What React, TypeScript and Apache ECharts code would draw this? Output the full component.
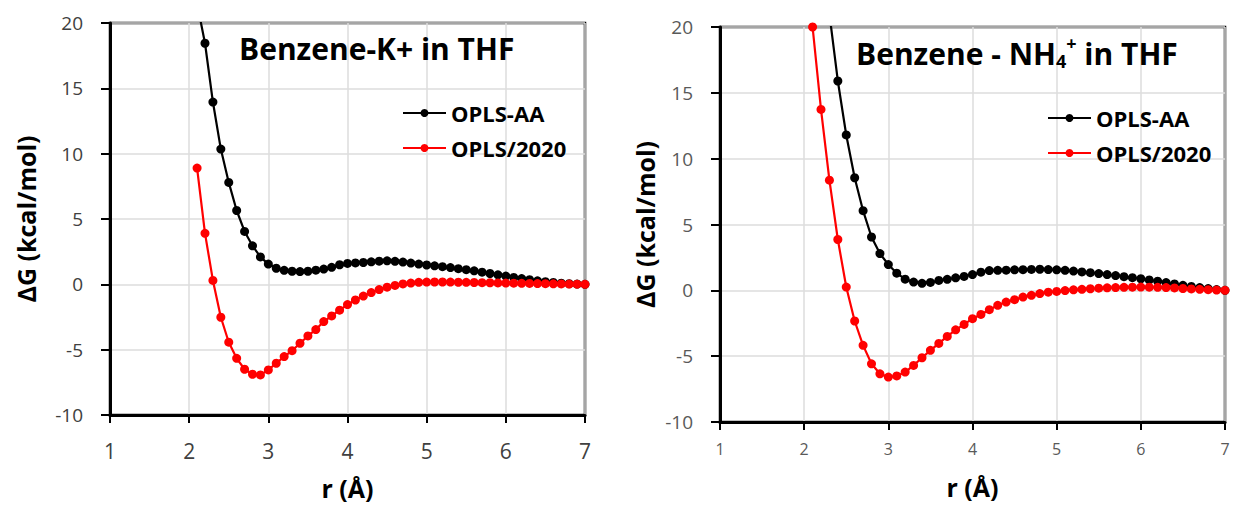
import React, { useEffect, useRef } from "react";
import * as echarts from "echarts";

// r (Å) grids
const R_FROM_2_1 = [2.1, 2.2, 2.3, 2.4, 2.5, 2.6, 2.7, 2.8, 2.9, 3.0, 3.1, 3.2, 3.3, 3.4, 3.5, 3.6, 3.7, 3.8, 3.9, 4.0, 4.1, 4.2, 4.3, 4.4, 4.5, 4.6, 4.7, 4.8, 4.9, 5.0, 5.1, 5.2, 5.3, 5.4, 5.5, 5.6, 5.7, 5.8, 5.9, 6.0, 6.1, 6.2, 6.3, 6.4, 6.5, 6.6, 6.7, 6.8, 6.9, 7.0];
const R_FROM_2_3 = [2.3, 2.4, 2.5, 2.6, 2.7, 2.8, 2.9, 3.0, 3.1, 3.2, 3.3, 3.4, 3.5, 3.6, 3.7, 3.8, 3.9, 4.0, 4.1, 4.2, 4.3, 4.4, 4.5, 4.6, 4.7, 4.8, 4.9, 5.0, 5.1, 5.2, 5.3, 5.4, 5.5, 5.6, 5.7, 5.8, 5.9, 6.0, 6.1, 6.2, 6.3, 6.4, 6.5, 6.6, 6.7, 6.8, 6.9, 7.0];

// Benzene-K+ in THF (kcal/mol)
const K_OPLSAA = [21.5, 18.45, 13.95, 10.35, 7.8, 5.65, 4.05, 2.95, 2.1, 1.55, 1.23, 1.07, 1.0, 0.98, 1.0, 1.08, 1.17, 1.3, 1.5, 1.6, 1.64, 1.67, 1.72, 1.77, 1.8, 1.76, 1.7, 1.63, 1.55, 1.48, 1.42, 1.35, 1.28, 1.2, 1.12, 1.03, 0.93, 0.83, 0.73, 0.63, 0.53, 0.44, 0.35, 0.27, 0.2, 0.14, 0.09, 0.05, 0.02, 0.0];
const K_OPLS2020 = [8.9, 3.9, 0.3, -2.52, -4.43, -5.66, -6.5, -6.88, -6.93, -6.55, -6.04, -5.53, -5.08, -4.51, -3.95, -3.46, -2.85, -2.42, -1.98, -1.55, -1.2, -0.9, -0.63, -0.4, -0.22, -0.08, 0.03, 0.1, 0.15, 0.17, 0.18, 0.18, 0.17, 0.16, 0.15, 0.14, 0.13, 0.12, 0.11, 0.1, 0.09, 0.08, 0.07, 0.06, 0.05, 0.04, 0.03, 0.02, 0.01, 0.0];

// Benzene - NH4+ in THF (kcal/mol)
const NH4_OPLSAA = [21.0, 15.9, 11.8, 8.55, 6.05, 4.05, 2.79, 1.96, 1.3, 0.85, 0.63, 0.53, 0.6, 0.75, 0.84, 0.95, 1.06, 1.2, 1.38, 1.5, 1.52, 1.53, 1.56, 1.57, 1.59, 1.6, 1.58, 1.56, 1.52, 1.46, 1.4, 1.34, 1.27, 1.2, 1.12, 1.04, 0.96, 0.88, 0.79, 0.69, 0.59, 0.48, 0.38, 0.29, 0.21, 0.13, 0.06, 0.0];
const NH4_OPLS2020 = [20.0, 13.74, 8.37, 3.86, 0.25, -2.33, -4.18, -5.58, -6.34, -6.59, -6.5, -6.21, -5.7, -5.12, -4.56, -4.03, -3.5, -3.0, -2.59, -2.15, -1.83, -1.47, -1.14, -0.89, -0.71, -0.51, -0.38, -0.25, -0.14, -0.08, -0.02, 0.04, 0.08, 0.12, 0.16, 0.19, 0.21, 0.23, 0.24, 0.25, 0.24, 0.23, 0.21, 0.18, 0.14, 0.11, 0.08, 0.05, 0.02, 0.0];

const SERIES_NAMES = ["OPLS-AA", "OPLS/2020"];
const SERIES_COLORS = ["#000000", "#ff0000"];
const X_TICKS = [1, 2, 3, 4, 5, 6, 7];
const Y_TICKS = [-10, -5, 0, 5, 10, 15, 20];
const PANEL_TITLES = ["Benzene-K+ in THF", "{a|Benzene - NH}{s|4}{p|+}{a| in THF}"];
const X_NAME = "r (Å)";
const Y_NAME = "ΔG (kcal/mol)";

const FONT = "'Open Sans', 'Noto Sans', sans-serif";

const pairs = (xs: number[], ys: number[]) => xs.map((x, i) => [x, ys[i]]);

function makeAxes(idx: number, cfg: any) {
  const xAxis = {
    type: "value",
    gridIndex: idx,
    min: X_TICKS[0],
    max: X_TICKS[X_TICKS.length - 1],
    interval: 1,
    name: X_NAME,
    nameLocation: "middle",
    nameGap: cfg.xNameGap,
    nameTextStyle: { fontFamily: FONT, fontWeight: "bold", fontSize: 25, color: "#000" },
    axisLine: { show: true, onZero: false, lineStyle: { color: "#000", width: 3 } },
    axisTick: { show: true, length: 8, lineStyle: { color: "#000", width: 2 } },
    axisLabel: { fontFamily: FONT, fontSize: cfg.xLabelSize, color: cfg.labelColor, margin: cfg.xLabelMargin },
    splitLine: { show: true, lineStyle: { color: "#dcdcdc", width: 1.5 } },
  };
  const yAxis = {
    type: "value",
    gridIndex: idx,
    min: Y_TICKS[0],
    max: Y_TICKS[Y_TICKS.length - 1],
    interval: 5,
    name: Y_NAME,
    nameLocation: "middle",
    nameRotate: 90,
    nameGap: cfg.yNameGap,
    nameTextStyle: { fontFamily: FONT, fontWeight: "bold", fontSize: 25, color: "#000" },
    axisLine: { show: true, lineStyle: { color: "#000", width: 3 } },
    axisTick: { show: true, length: 9, lineStyle: { color: "#000", width: 2 } },
    axisLabel: { fontFamily: FONT, fontSize: 19, color: cfg.labelColor, margin: cfg.yLabelMargin },
    splitLine: { show: true, lineStyle: { color: "#dcdcdc", width: 1.5 } },
  };
  return { xAxis, yAxis };
}

function lineSeries(name: string, color: string, idx: number, data: number[][]) {
  return {
    type: "line",
    name,
    xAxisIndex: idx,
    yAxisIndex: idx,
    data,
    symbol: "circle",
    symbolSize: 9,
    showSymbol: true,
    clip: true,
    lineStyle: { color, width: 2.2 },
    itemStyle: { color },
    z: name === SERIES_NAMES[1] ? 3 : 2,
  };
}

export default function App() {
  const ref = useRef<HTMLDivElement>(null);
  useEffect(() => {
    if (!ref.current) return;
    const chart = echarts.init(ref.current, null, { renderer: "svg" });
    const left = makeAxes(0, { xNameGap: 60, xLabelSize: 21, xLabelMargin: 25, yNameGap: 72, yLabelMargin: 27, labelColor: "#404040" });
    const right = makeAxes(1, { xNameGap: 52, xLabelSize: 16, xLabelMargin: 19, yNameGap: 63, yLabelMargin: 27, labelColor: "#595959" });
    const legendCommon = {
      orient: "vertical",
      itemWidth: 43,
      itemHeight: 10,
      itemGap: 13,
      selectedMode: false,
      data: SERIES_NAMES,
      textStyle: { fontFamily: FONT, fontWeight: "bold", fontSize: 22, color: "#000" },
    };
    chart.setOption({
      animation: false,
      backgroundColor: "#ffffff",
      title: [
        {
          text: PANEL_TITLES[0],
          left: 239,
          top: 33,
          padding: 0,
          textStyle: { fontFamily: FONT, fontWeight: "bold", fontSize: 30, lineHeight: 30, color: "#000" },
        },
        {
          text: PANEL_TITLES[1],
          left: 856,
          top: 38,
          padding: 0,
          textStyle: {
            rich: {
              a: { fontFamily: FONT, fontWeight: "bold", fontSize: 30, lineHeight: 30, color: "#000" },
              s: { fontFamily: FONT, fontWeight: "bold", fontSize: 18, lineHeight: 18, color: "#000", padding: [16, 0, 0, 0] },
              p: { fontFamily: FONT, fontWeight: "bold", fontSize: 18, lineHeight: 18, color: "#000", padding: [0, 0, 20, 0] },
            },
          },
        },
      ],
      legend: [
        { ...legendCommon, left: 397, top: 97 },
        { ...legendCommon, left: 1042, top: 102 },
      ],
      grid: [
        { left: 110, top: 23, width: 475, height: 392, show: true, borderColor: "#000", borderWidth: 2.5, containLabel: false },
        { left: 720, top: 27, width: 505, height: 395, show: true, borderColor: "#000", borderWidth: 2.5, containLabel: false },
      ],
      xAxis: [left.xAxis, right.xAxis],
      yAxis: [left.yAxis, right.yAxis],
      series: [
        lineSeries(SERIES_NAMES[0], SERIES_COLORS[0], 0, pairs(R_FROM_2_1, K_OPLSAA)),
        lineSeries(SERIES_NAMES[1], SERIES_COLORS[1], 0, pairs(R_FROM_2_1, K_OPLS2020)),
        lineSeries(SERIES_NAMES[0], SERIES_COLORS[0], 1, pairs(R_FROM_2_3, NH4_OPLSAA)),
        lineSeries(SERIES_NAMES[1], SERIES_COLORS[1], 1, pairs(R_FROM_2_1, NH4_OPLS2020)),
      ],
    });
    return () => chart.dispose();
  }, []);
  return (
    <div
      ref={ref}
      style={{ position: "absolute", left: 0, top: 0, width: 1233, height: 508, background: "#fff" }}
    />
  );
}
